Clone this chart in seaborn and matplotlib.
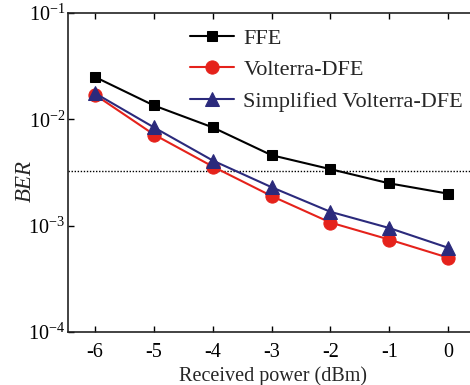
import matplotlib
matplotlib.use("Agg")
import matplotlib.pyplot as plt
import seaborn as sns
import pandas as pd
import numpy as np
from matplotlib.ticker import LogLocator, NullLocator

power = [-6, -5, -4, -3, -2, -1, 0]
ffe = [0.025, 0.0135, 0.0084, 0.0046, 0.0034, 0.0025, 0.0020]
vdfe = [0.017, 0.0072, 0.0036, 0.0019, 0.00107, 0.00074, 0.00050]
svdfe = [0.0176, 0.0084, 0.0041, 0.0023, 0.00135, 0.00095, 0.00062]
threshold = 3.3e-3

sns.set_style("ticks")
plt.rcParams['font.family'] = ['Liberation Serif', 'DejaVu Serif']
plt.rcParams['mathtext.fontset'] = 'stix'

fig = plt.figure(figsize=(4.7, 3.85), dpi=100)
W, H = 470, 385
ax = fig.add_axes([68 / W, 1 - 332 / H, (477.5 - 68) / W, (332 - 13) / H])

series = [
    ("FFE", ffe, "black", "s", 7.5),
    ("Volterra-DFE", vdfe, "#e5221b", "o", 9.5),
    ("Simplified Volterra-DFE", svdfe, "#2b2a7c", "^", 9.5),
]
for name, vals, col, mk, ms in series:
    df = pd.DataFrame({"power": power, "ber": vals})
    sns.lineplot(data=df, x="power", y="ber", ax=ax, color=col, marker=mk,
                 markersize=ms, markeredgecolor=col, linewidth=1.5, label=name)

ax.axhline(threshold, color="black", linestyle=(0, (1, 1.2)), linewidth=1.0, zorder=0)

ax.set_yscale("log")
ax.set_ylim(1e-4, 1e-1)
ax.set_xlim(-6.46, 0.5)
ax.set_xticks(power)
ax.set_xticklabels([str(p) for p in power])
ax.yaxis.set_major_locator(LogLocator(base=10, numticks=10))
ax.yaxis.set_minor_locator(NullLocator())
ax.tick_params(axis="both", which="major", direction="in", length=4, width=1,
               labelsize=14.5, top=True, right=False, colors="black")
ax.tick_params(axis="x", pad=8)
ax.tick_params(axis="y", pad=2)
for s in ["left", "bottom", "top"]:
    ax.spines[s].set_linewidth(1.2)
    ax.spines[s].set_color("#222222")
ax.spines["right"].set_visible(False)

ax.set_xlabel("Received power (dBm)", fontsize=14.5, labelpad=3)
ax.set_ylabel("BER", fontsize=16.5, style="italic")
ax.yaxis.set_label_coords((36 - 68) / 409.5, (332 - 181) / 319)

leg = ax.legend(loc="upper left", bbox_to_anchor=((190 - 68) / 409.5, (332 - 28) / 319),
                frameon=False, fontsize=16, handlelength=2.0, labelspacing=0.5,
                handletextpad=0.4, borderaxespad=0, borderpad=0)
fig.savefig("out.png", dpi=100)
